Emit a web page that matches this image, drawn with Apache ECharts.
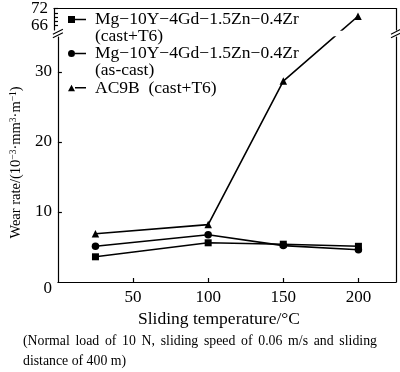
<!DOCTYPE html>
<html><head><meta charset="utf-8">
<script src="https://cdn.jsdelivr.net/npm/echarts@6/dist/echarts.min.js"></script>
<style>html,body{margin:0;padding:0;background:#fff}#c{width:400px;height:372px}</style>
</head><body><div id="c"></div>
<script>
// ---- data ----
const temps = [25, 100, 150, 200];
const castT6 = [3.6, 5.6, 5.4, 5.1];
const asCast = [5.1, 6.75, 5.2, 4.6];
const ac9b = [6.9, 8.2, 28.7, 69.3];
const seriesNames = ['Mg−10Y−4Gd−1.5Zn−0.4Zr\n(cast+T6)', 'Mg−10Y−4Gd−1.5Zn−0.4Zr\n(as-cast)', 'AC9B  (cast+T6)'];
const xLabels = [50, 100, 150, 200];
const yLowLabels = [0, 10, 20, 30];
const yLowTicks = [10, 20, 30];
const yHighLabels = [66, 72];
const yHighTicks = [66, 67.5, 69, 70.5, 72];
const xAxisName = 'Sliding temperature/°C';
const captionLines = ['(Normal load of 10 N, sliding speed of 0.06 m/s and sliding', 'distance of 400 m)'];
const LOW_MAX = 35, HIGH_MIN = 64.5, HIGH_MAX = 72, X_MAX = 225;

const FONT = '"Liberation Serif", "Times New Roman", serif';
const BLACK = '#000';
const chart = echarts.init(document.getElementById('c'), null, {renderer: 'canvas'});

const defs = [
  {name: seriesNames[0], vals: castT6, symbol: 'rect', size: 7,
   icon: 'path://M0,0 H7 V7 H0 Z M7,2.75 H18 V4.25 H7 Z'},
  {name: seriesNames[1], vals: asCast, symbol: 'circle', size: 7.5,
   icon: 'path://M0,3.5 A3.5,3.5 0 1,1 7,3.5 A3.5,3.5 0 1,1 0,3.5 Z M7,2.75 H18 V4.25 H7 Z'},
  {name: seriesNames[2], vals: ac9b, symbol: 'triangle', size: 7.5,
   icon: 'path://M3.5,0.5 L7,7 L0,7 Z M7,2.75 H18 V4.25 H7 Z'}
];

function buildSeries(bridges) {
  const out = [];
  defs.forEach((d, k) => {
    const pts = temps.map((t, i) => [t, d.vals[i]]);
    const low = pts.filter(p => p[1] <= LOW_MAX).map(p => ({value: p}));
    const high = pts.filter(p => p[1] > LOW_MAX).map(p => ({value: p}));
    const b = bridges && bridges[k];
    if (b) { low.push({value: b.low, symbol: 'none'}); high.unshift({value: b.high, symbol: 'none'}); }
    const common = {type: 'line', name: d.name, symbol: d.symbol, symbolSize: d.size,
      itemStyle: {color: BLACK}, lineStyle: {color: BLACK, width: 1.6}, animation: false, clip: true, z: 3};
    out.push(Object.assign({}, common, {xAxisIndex: 1, yAxisIndex: 1, data: low}));
    if (high.length) out.push(Object.assign({}, common, {xAxisIndex: 0, yAxisIndex: 0, data: high}));
  });
  return out;
}

const lineStyle = {color: BLACK, width: 1.2};
const labelFont = {fontFamily: FONT, fontSize: 17, color: BLACK};
const LEG_FS = 17.5;

// legend entry: first line centred on the icon, second line hanging below it
function legendFor(k, top) {
  const twoLine = seriesNames[k].indexOf('\n') >= 0;
  return {
    show: true, orient: 'vertical', left: 68, top: top, padding: 0, selectedMode: false,
    itemWidth: 18, itemHeight: 7,
    itemStyle: {color: BLACK, borderWidth: 0},
    formatter: twoLine ? (name => {
      const parts = name.split('\n');
      return '{a|' + parts[0] + '}\n{b|' + parts[1] + '}';
    }) : null,
    textStyle: {fontFamily: FONT, fontSize: LEG_FS, color: BLACK, padding: [0, 0, 0, 4],
      rich: {
        a: {fontFamily: FONT, fontSize: LEG_FS, color: BLACK, lineHeight: 17},
        b: {fontFamily: FONT, fontSize: LEG_FS, color: BLACK, lineHeight: 1, verticalAlign: 'top'}
      }},
    data: [{name: seriesNames[k], icon: defs[k].icon}]
  };
}

const option = {
  animation: false,
  backgroundColor: '#fff',
  grid: [
    {left: 54, right: 4, top: 6, height: 24},
    {left: 54, right: 4, top: 37, height: 245}
  ],
  legend: [legendFor(0, 10), legendFor(1, 44), legendFor(2, 79)],
  xAxis: [
    {gridIndex: 0, type: 'value', min: 0, max: X_MAX, position: 'top',
     axisLine: {show: true, onZero: false, lineStyle}, axisTick: {show: false},
     axisLabel: {show: false}, splitLine: {show: false}},
    {gridIndex: 1, type: 'value', min: 0, max: X_MAX, position: 'bottom',
     axisLine: {show: true, onZero: false, lineStyle},
     axisTick: {show: true, inside: true, length: 4, customValues: xLabels, lineStyle},
     axisLabel: Object.assign({customValues: xLabels, margin: 7}, labelFont),
     splitLine: {show: false},
     name: xAxisName, nameLocation: 'middle', nameGap: 22,
     nameTextStyle: {fontFamily: FONT, fontSize: 17.5, color: BLACK, padding: [0, 16, 0, 0]}}
  ],
  yAxis: [
    {gridIndex: 0, type: 'value', min: HIGH_MIN, max: HIGH_MAX, position: 'left',
     axisLine: {show: true, onZero: false, lineStyle},
     axisTick: {show: true, inside: true, length: 4, customValues: yHighTicks, lineStyle},
     axisLabel: Object.assign({customValues: yHighLabels, margin: 6}, labelFont),
     splitLine: {show: false}},
    {gridIndex: 1, type: 'value', min: 0, max: LOW_MAX, position: 'left',
     axisLine: {show: true, onZero: false, lineStyle},
     axisTick: {show: true, inside: true, length: 4, customValues: yLowTicks, lineStyle},
     axisLabel: Object.assign({customValues: yLowLabels, margin: 6,
       formatter: v => v === 0 ? '{z|0}' : String(v),
       rich: {z: {fontFamily: FONT, fontSize: 17, color: BLACK, padding: [14, 0, 0, 0]}}}, labelFont),
     splitLine: {show: false},
     name: '{n|Wear rate/(10}{s|−3}{n|·mm}{s|3}{n|·m}{s|−1}{n|)}',
     nameLocation: 'middle', nameGap: 30,
     nameTextStyle: {fontFamily: FONT, fontSize: 14.5, color: BLACK, padding: [0, 6, 0, 0],
       rich: {n: {fontFamily: FONT, fontSize: 14.5, color: BLACK, lineHeight: 17},
              s: {fontFamily: FONT, fontSize: 9.5, color: BLACK, verticalAlign: 'top', lineHeight: 17}}}},
    {gridIndex: 0, type: 'value', min: HIGH_MIN, max: HIGH_MAX, position: 'right',
     axisLine: {show: true, onZero: false, lineStyle}, axisTick: {show: false},
     axisLabel: {show: false}, splitLine: {show: false}},
    {gridIndex: 1, type: 'value', min: 0, max: LOW_MAX, position: 'right',
     axisLine: {show: true, onZero: false, lineStyle}, axisTick: {show: false},
     axisLabel: {show: false}, splitLine: {show: false}}
  ],
  series: buildSeries(null)
};
chart.setOption(option);

// bridge segments crossing the axis break, computed through the axes' own scales
const bridges = {};
defs.forEach((d, k) => {
  const pts = temps.map((t, i) => [t, d.vals[i]]);
  const low = pts.filter(p => p[1] <= LOW_MAX), high = pts.filter(p => p[1] > LOW_MAX);
  if (low.length && high.length) {
    const a = low[low.length - 1], b = high[0];
    const pa = chart.convertToPixel({xAxisIndex: 1, yAxisIndex: 1}, a);
    const pb = chart.convertToPixel({xAxisIndex: 0, yAxisIndex: 0}, b);
    bridges[k] = {
      low: chart.convertFromPixel({xAxisIndex: 1, yAxisIndex: 1}, pb),
      high: chart.convertFromPixel({xAxisIndex: 0, yAxisIndex: 0}, pa)
    };
  }
});

// break marks on both vertical axes
const xl = chart.convertToPixel({xAxisIndex: 1}, 0);
const xr = chart.convertToPixel({xAxisIndex: 1}, X_MAX);
const yTopBreak = chart.convertToPixel({yAxisIndex: 0}, HIGH_MIN);
const yBotBreak = chart.convertToPixel({yAxisIndex: 1}, LOW_MAX);
const yc = (yTopBreak + yBotBreak) / 2;
const breakMarks = [];
[xl, xr].forEach(x => {
  [-1.8, 1.8].forEach(dy => {
    breakMarks.push({type: 'line', silent: true,
      shape: {x1: x - 5, y1: yc + dy + 2.5, x2: x + 5, y2: yc + dy - 2.5},
      style: {stroke: BLACK, lineWidth: 1.1}});
  });
});

// caption: first line justified by widening the word gaps
const captionText = captionLines[0].split(' ').join('{g| }') + '\n' + captionLines[1];

chart.setOption({
  series: buildSeries(bridges),
  graphic: breakMarks.concat([{
    type: 'text', left: 23, top: 331, silent: true,
    style: {text: captionText, font: '13.8px ' + FONT, lineHeight: 20, fill: BLACK,
      rich: {g: {width: 5.7, font: '13.8px ' + FONT}}}
  }])
});
</script></body></html>
